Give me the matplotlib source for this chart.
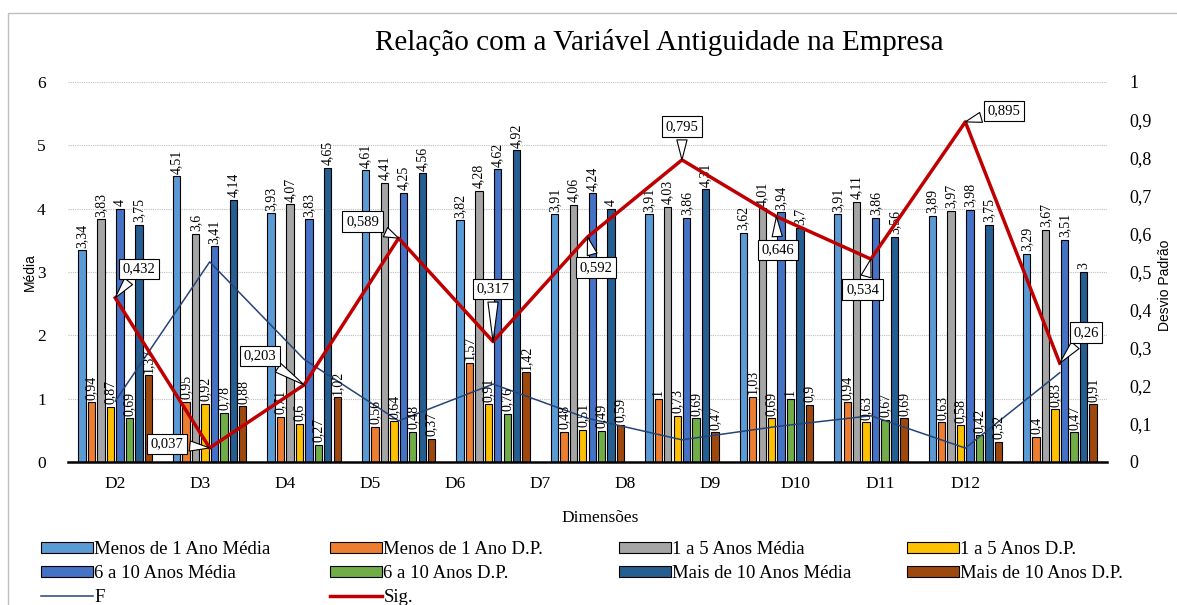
import numpy as np
import matplotlib
matplotlib.use("Agg")
import matplotlib.pyplot as plt
from matplotlib.patches import Rectangle

#%%
# data
dims = ['D2', 'D3', 'D4', 'D5', 'D6', 'D7', 'D8', 'D9', 'D10', 'D11', 'D12']

menos1_media = [3.34, 4.51, 3.93, 4.61, 3.82, 3.91, 3.91, 3.62, 3.91, 3.89, 3.29]
menos1_dp    = [0.94, 0.95, 0.71, 0.56, 1.57, 0.48, 1.00, 1.03, 0.94, 0.63, 0.40]
a1a5_media   = [3.83, 3.60, 4.07, 4.41, 4.28, 4.06, 4.03, 4.01, 4.11, 3.97, 3.67]
a1a5_dp      = [0.87, 0.92, 0.60, 0.64, 0.91, 0.51, 0.73, 0.69, 0.63, 0.58, 0.83]
a6a10_media  = [4.00, 3.41, 3.83, 4.25, 4.62, 4.24, 3.86, 3.94, 3.86, 3.98, 3.51]
a6a10_dp     = [0.69, 0.78, 0.27, 0.48, 0.76, 0.49, 0.69, 1.00, 0.67, 0.42, 0.47]
mais10_media = [3.75, 4.14, 4.65, 4.56, 4.92, 4.00, 4.31, 3.70, 3.56, 3.75, 3.00]
mais10_dp    = [1.37, 0.88, 1.02, 0.37, 1.42, 0.59, 0.47, 0.90, 0.69, 0.32, 0.91]

f_vals   = [0.96, 3.16, 1.62, 0.65, 1.23, 0.69, 0.35, 0.56, 0.73, 0.22, 1.41]
sig_vals = [0.432, 0.037, 0.203, 0.589, 0.317, 0.592, 0.795, 0.646, 0.534, 0.895, 0.26]

series = [
    ('Menos de 1 Ano Média', menos1_media, '#5B9BD5'),
    ('Menos de 1 Ano D.P.', menos1_dp, '#ED7D31'),
    ('1 a 5 Anos Média', a1a5_media, '#A5A5A5'),
    ('1 a 5 Anos D.P.', a1a5_dp, '#FFC000'),
    ('6 a 10 Anos Média', a6a10_media, '#4472C4'),
    ('6 a 10 Anos D.P.', a6a10_dp, '#70AD47'),
    ('Mais de 10 Anos Média', mais10_media, '#255E91'),
    ('Mais de 10 Anos D.P.', mais10_dp, '#9E480E'),
]

# callout offsets (points) for the Sig. labels
sig_offsets = [(17, 21), (-31, 3), (-32, 21), (-26, 12), (0, 38), (6, -22),
               (0, 24), (1, -24), (-6, -22), (28, 8), (19, 22)]

#%%
serif = 'Liberation Serif'
sans = 'Liberation Sans'
plt.rcParams['font.family'] = serif

def fmt(v):
    return f'{v:g}'.replace('.', ',')

W, H = 1177, 605
fig = plt.figure(figsize=(W / 100, H / 100), dpi=100)
ax = fig.add_axes([68 / W, 1 - 462 / H, (1107 - 68) / W, (462 - 82) / H])

x = np.arange(len(dims))
bw = 0.1
handles = {}
for j, (name, vals, col) in enumerate(series):
    pos = x + (j - 3.5) * bw
    b = ax.bar(pos, vals, width=0.078, color=col, edgecolor='black', linewidth=0.8,
               label=name, zorder=2)
    handles[name] = b
    for px, v in zip(pos, vals):
        ax.text(px, v + 0.04, fmt(v), rotation=90, ha='center', va='bottom',
                fontsize=10, zorder=5)

f_line, = ax.plot(x, f_vals, color='#264478', lw=1.1, label='F', zorder=3)

ax.set_xlim(-0.5, len(dims) - 0.5)
ax.set_ylim(0, 6)
ax.set_yticks(range(7))
ax.yaxis.grid(True, linestyle=(0, (1, 1)), color='#BFBFBF', lw=0.8, zorder=0)
ax.set_axisbelow(True)
for s in ['top', 'left', 'right']:
    ax.spines[s].set_visible(False)
ax.spines['bottom'].set_linewidth(1.8)
# category labels as placed in the source chart
ax.set_xticks(x * 0.9)
ax.set_xticklabels(dims)
ax.tick_params(axis='both', length=0, labelsize=12.5)
ax.tick_params(axis='x', pad=10)
ax.tick_params(axis='y', pad=16)

ax2 = ax.twinx()
sig_line, = ax2.plot(x, sig_vals, color='#C00000', lw=2.5, label='Sig.', zorder=4)
ax2.set_ylim(0, 1)
ax2.set_yticks(np.arange(0, 1.01, 0.1))
ax2.set_yticklabels([fmt(round(t, 1)) for t in np.arange(0, 1.01, 0.1)])
ax2.tick_params(axis='y', length=0, labelsize=13, pad=16)
for s in ['top', 'left', 'right', 'bottom']:
    ax2.spines[s].set_visible(False)

for xi, sv, off in zip(x, sig_vals, sig_offsets):
    ax2.annotate(fmt(sv), xy=(xi, sv), xytext=off, textcoords='offset points',
                 ha='center', va='center', fontsize=10.5,
                 bbox=dict(boxstyle='square,pad=0.25', fc='white', ec='black', lw=0.8),
                 arrowprops=dict(arrowstyle='wedge,tail_width=0.7,shrink_factor=0.5',
                                 fc='white', ec='black', lw=0.8, shrinkB=0),
                 zorder=6)

# titles and axis names
fig.text(659 / W, 1 - 42 / H, 'Relação com a Variável Antiguidade na Empresa',
         ha='center', va='center', fontsize=21)
fig.text(30 / W, 1 - 272 / H, 'Média', rotation=90, ha='center', va='center',
         fontsize=10, family=sans)
fig.text(1165 / W, 1 - 285 / H, 'Desvio Padrão', rotation=90, ha='center',
         va='center', fontsize=10, family=sans)
fig.text(600 / W, 1 - 518 / H, 'Dimensões', ha='center', va='center', fontsize=12.5)

# legend, four columns filled row by row
cols = [
    [handles['Menos de 1 Ano Média'], handles['6 a 10 Anos Média'], f_line],
    [handles['Menos de 1 Ano D.P.'], handles['6 a 10 Anos D.P.'], sig_line],
    [handles['1 a 5 Anos Média'], handles['Mais de 10 Anos Média']],
    [handles['1 a 5 Anos D.P.'], handles['Mais de 10 Anos D.P.']],
]
col_x = [41, 330, 619, 907]
for hs, cx in zip(cols, col_x):
    fig.legend(handles=hs, labels=[h.get_label() for h in hs], loc='upper left',
               bbox_to_anchor=(cx / W, 1 - 541 / H), frameon=False, fontsize=13.5,
               handlelength=2.75, handleheight=0.5, handletextpad=0.1,
               labelspacing=0.38, borderpad=0, borderaxespad=0)

# chart area frame
fig.add_artist(Rectangle((8 / W, -0.05), 1.1, 1.05 - 13 / H, transform=fig.transFigure,
                         fill=False, ec='#BFBFBF', lw=1))

fig.savefig('out.png', dpi=100)
